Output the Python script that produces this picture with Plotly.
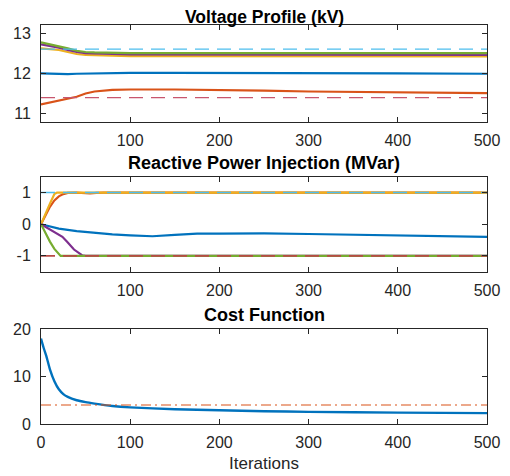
import plotly.graph_objects as go
from plotly.subplots import make_subplots

# ---------------- data ----------------
# Voltage profile (kV)
v_iter = [0, 10, 20, 30, 40, 50, 60, 80, 100, 150, 200, 250, 300, 400, 500]
v_blue = [12.0, 11.99, 11.99, 11.98, 11.99, 11.995, 12.0, 12.005, 12.01, 12.01, 12.01, 12.005, 12.0, 12.0, 11.99]
v_orange = [11.23, 11.28, 11.33, 11.38, 11.42, 11.5, 11.55, 11.59, 11.6, 11.6, 11.59, 11.57, 11.55, 11.53, 11.51]
v_yellow = [12.62, 12.6, 12.58, 12.53, 12.48, 12.46, 12.45, 12.44, 12.43, 12.43, 12.42, 12.42, 12.42, 12.42, 12.42]
v_purple = [12.72, 12.68, 12.64, 12.58, 12.53, 12.5, 12.49, 12.48, 12.47, 12.47, 12.46, 12.46, 12.46, 12.46, 12.46]
v_green = [12.77, 12.72, 12.68, 12.62, 12.56, 12.53, 12.52, 12.51, 12.5, 12.5, 12.5, 12.5, 12.5, 12.5, 12.5]
v_upper = 12.6
v_lower = 11.4

# Reactive power injection (MVar)
q_blue_iter = [0, 10, 20, 40, 60, 80, 100, 125, 150, 175, 200, 250, 300, 350, 400, 450, 500]
q_blue = [0, -0.08, -0.14, -0.22, -0.28, -0.32, -0.35, -0.38, -0.34, -0.3, -0.3, -0.29, -0.31, -0.33, -0.35, -0.37, -0.4]
q_orange_iter = [0, 5, 10, 15, 20, 25, 30, 40, 48, 55, 62, 70, 500]
q_orange = [0, 0.3, 0.55, 0.75, 0.88, 0.95, 0.99, 1.0, 0.99, 0.97, 0.99, 1.0, 1.0]
q_yellow_iter = [0, 5, 10, 15, 18, 500]
q_yellow = [0, 0.35, 0.65, 0.95, 1.0, 1.0]
q_purple_iter = [0, 7, 14, 20, 24, 29, 37, 46, 50, 500]
q_purple = [0, -0.12, -0.25, -0.33, -0.4, -0.55, -0.8, -0.98, -1.0, -1.0]
q_green_iter = [0, 5, 10, 15, 20, 22, 500]
q_green = [0, -0.3, -0.55, -0.78, -0.95, -1.0, -1.0]
q_upper = 1
q_lower = -1

# Cost function
c_iter = [0, 3, 6, 10, 15, 20, 25, 30, 40, 50, 60, 80, 100, 150, 200, 250, 300, 400, 500]
c_val = [18, 16, 14.3, 11.5, 9.0, 7.3, 6.3, 5.7, 5.0, 4.6, 4.3, 3.8, 3.5, 3.1, 2.9, 2.7, 2.55, 2.4, 2.3]
c_ref = 4.0

x_ticks_top = [100, 200, 300, 400, 500]
x_ticks_bottom = [0, 100, 200, 300, 400, 500]
y_ticks_v = [11, 12, 13]
y_ticks_q = [-1, 0, 1]
y_ticktext_q = ["-1", "0", "1"]
y_ticks_c = [0, 10, 20]

# ---------------- style ----------------
BLUE = "#0072BD"
ORANGE = "#D95319"
YELLOW = "#EDB120"
PURPLE = "#7E2F8E"
GREEN = "#77AC30"
CYAN = "#4DBEEE"
AX = "#262626"
FONT = "Liberation Sans, Arial, Helvetica, sans-serif"

fig = make_subplots(rows=3, cols=1)

def line(x, y, color, row, width=2.2, shape="linear"):
    ln = dict(color=color, width=width, shape=shape)
    if shape == "spline":
        ln["smoothing"] = 0.5
    fig.add_trace(go.Scatter(x=x, y=y, mode="lines", line=ln,
                             showlegend=False, hoverinfo="skip"), row=row, col=1)

def hline(val, color, row, dash, width=1.3):
    fig.add_trace(go.Scatter(x=[0, 500], y=[val, val], mode="lines", line=dict(color=color, width=width, dash=dash),
                             showlegend=False, hoverinfo="skip"), row=row, col=1)

# plot 1
line(v_iter, v_blue, BLUE, 1)
line(v_iter, v_orange, ORANGE, 1)
line(v_iter, v_yellow, YELLOW, 1)
line(v_iter, v_purple, PURPLE, 1)
line(v_iter, v_green, GREEN, 1)
hline(v_upper, CYAN, 1, "14px,8px")
hline(v_lower, "#C8566E", 1, "14px,8px")

# plot 2
line(q_blue_iter, q_blue, BLUE, 2)
line(q_orange_iter, q_orange, ORANGE, 2)
line(q_yellow_iter, q_yellow, YELLOW, 2)
line(q_purple_iter, q_purple, PURPLE, 2)
line(q_green_iter, q_green, GREEN, 2)
hline(q_upper, CYAN, 2, "14px,8px", width=1.6)
hline(q_lower, "#B84A45", 2, "14px,8px", width=1.6)

# plot 3
line(c_iter, c_val, BLUE, 3, width=2.4, shape="spline")
hline(c_ref, ORANGE, 3, "10px,4px,2px,4px", width=1.2)

domains = [(0.7576, 1.0), (0.3817, 0.6198), (0.0, 0.2381)]
yranges = [(10.8, 13.2), (-1.5, 1.5), (0, 20)]
yticks = [y_ticks_v, y_ticks_q, y_ticks_c]
yticktext = [[str(v) for v in y_ticks_v], y_ticktext_q, [str(v) for v in y_ticks_c]]

for i in range(3):
    xa = "xaxis" if i == 0 else f"xaxis{i+1}"
    ya = "yaxis" if i == 0 else f"yaxis{i+1}"
    fig.layout[xa].update(
        range=[0, 500], tickvals=(x_ticks_bottom if i == 2 else x_ticks_top),
        showline=True, linecolor=AX, linewidth=1, mirror="ticks",
        ticks="inside", ticklen=5, tickcolor=AX, showgrid=False, zeroline=False,
        tickfont=dict(family=FONT, size=16, color=AX), ticklabelstandoff=4,
        automargin=False,
    )
    fig.layout[ya].update(
        range=list(yranges[i]), tickvals=yticks[i], ticktext=yticktext[i], domain=list(domains[i]),
        showline=True, linecolor=AX, linewidth=1, mirror="ticks",
        ticks="inside", ticklen=5, tickcolor=AX, showgrid=False, zeroline=False,
        tickfont=dict(family=FONT, size=16, color=AX), ticklabelstandoff=6,
        automargin=False,
    )

# title positions (screen px from top), plot area top at 25 px, height 399 px
titles = [("Voltage Profile (kV)", 17.5, 17.5), ("Reactive Power Injection (MVar)", 163, 18), ("Cost Function", 315, 18)]
for text, ypx, fs in titles:
    fig.add_annotation(text="<b>" + text + "</b>", xref="paper", yref="paper", x=0.5,
                       y=1 - (ypx - 25) / 399, yanchor="middle", xanchor="center", showarrow=False,
                       font=dict(family=FONT, size=fs, color="#000000"))

fig.add_annotation(text="Iterations", xref="paper", yref="paper", x=0.5,
                   y=1 - (463 - 25) / 399, yanchor="middle", xanchor="center", showarrow=False,
                   font=dict(family=FONT, size=17, color=AX))

# page body has an 8px margin, so the figure is 8px smaller and offsets are reduced
fig.update_layout(
    width=502, height=468,
    margin=dict(l=33, r=23, t=17, b=52),
    paper_bgcolor="white", plot_bgcolor="white",
)

fig.write_html("out.html")
